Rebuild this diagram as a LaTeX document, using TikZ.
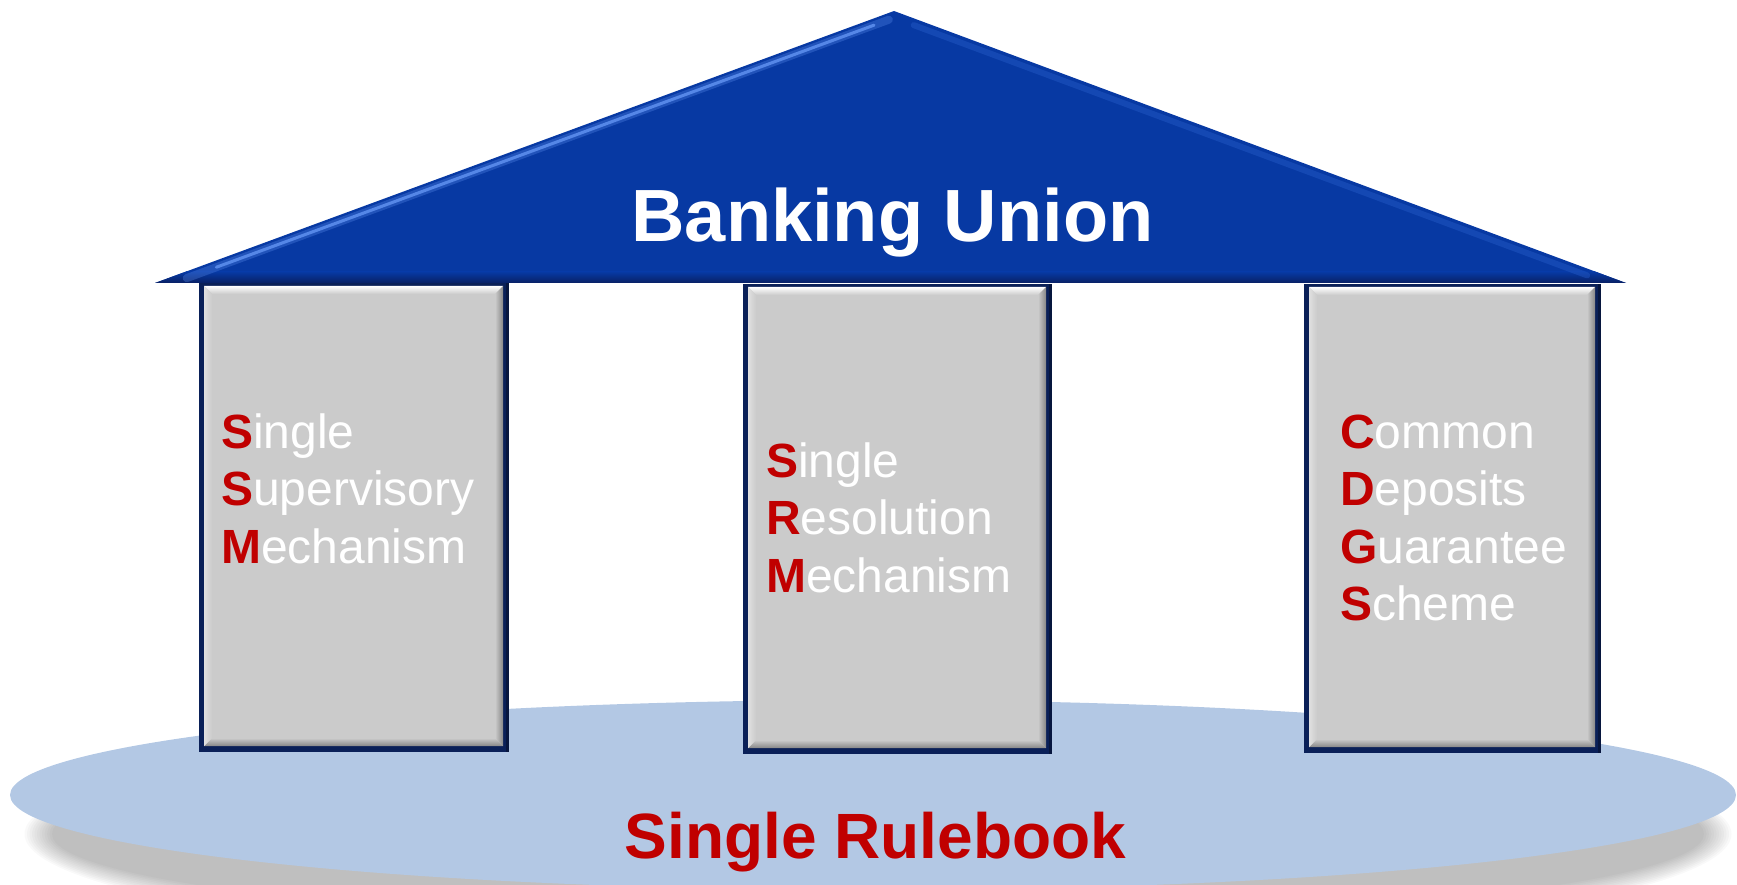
\documentclass[tikz,border=0pt]{standalone}
\usepackage{fontspec}
\setmainfont{Liberation Sans}
\usetikzlibrary{calc}
\definecolor{roofblue}{RGB}{7,57,163}
\definecolor{roofdark}{RGB}{8,32,100}
\definecolor{roofhi}{RGB}{95,145,240}
\definecolor{roofhitwo}{RGB}{40,95,205}
\definecolor{navy}{RGB}{10,32,88}
\definecolor{pgray}{RGB}{203,203,203}
\definecolor{pdark}{RGB}{135,135,135}
\definecolor{groundblue}{RGB}{179,200,228}
\definecolor{rred}{RGB}{192,0,0}
\newcommand\ini[1]{\textcolor{rred}{\textbf{#1}}}
\newcommand\drawpillar[4]{%
  \fill[navy] (#1,#2) rectangle (#3,#4);
  \fill[navy!70!black] (#3-3,#2) rectangle (#3,#4);
  \fill[pgray] (#1+5,#2+3) rectangle (#3-6,#4-6);
  \shade[top color=white, bottom color=pgray] (#1+5,#2+3) -- (#3-6,#2+3) -- (#3-14,#2+11) -- (#1+13,#2+11) -- cycle;
  \shade[top color=pgray, bottom color=pdark] (#1+5,#4-6) -- (#3-6,#4-6) -- (#3-14,#4-14) -- (#1+13,#4-14) -- cycle;
  \shade[left color=pgray, right color=pdark] (#3-6,#2+3) -- (#3-6,#4-6) -- (#3-14,#4-14) -- (#3-14,#2+11) -- cycle;
  \shade[left color=white!40!pgray, right color=pgray] (#1+5,#2+3) -- (#1+5,#4-6) -- (#1+13,#4-14) -- (#1+13,#2+11) -- cycle;
}
\tikzset{
  ptext/.style={anchor=base west, inner sep=0pt, text width=290pt, align=left,
    font=\fontsize{48}{57.5}\selectfont, text=white},
  title/.style={anchor=base, inner sep=0pt, font=\fontsize{74}{80}\selectfont\bfseries, text=white},
  ground/.style={anchor=base, inner sep=0pt, font=\fontsize{64}{70}\selectfont\bfseries, text=rred}
}
\begin{document}
\begin{tikzpicture}[x=1pt,y=-1pt]
\useasboundingbox (0,0) rectangle (1737,885);
\begin{scope}
  \clip (0,0) rectangle (1737,885);
  \foreach \k in {0,...,11}
    \fill[black, opacity=0.022] (878,834) ellipse [x radius={826+\k*2.5}, y radius={90+\k*2.5}];
  \fill[groundblue] (873,795) ellipse [x radius=863, y radius=95];
\end{scope}
% pillars
\drawpillar{199}{283}{509}{752}
\drawpillar{743}{284}{1052}{754}
\drawpillar{1304}{284}{1601}{753}
% roof
\coordinate (rl) at (155,283);
\coordinate (ra) at (894,11);
\coordinate (rr) at (1626,283);
\fill[roofblue] (rl) -- (ra) -- (rr) -- cycle;
\begin{scope}
  \clip (rl) -- (ra) -- (rr) -- cycle;
  \shade[top color=roofblue, bottom color=roofdark] (0,272) rectangle (1737,283);
  \draw[roofhi, line width=8pt, opacity=0.3, line cap=round] ($(rl)!0.04!(ra)+(2.2,6)$) -- ($(rl)!0.99!(ra)+(2.2,6)$);
  \draw[roofhi, line width=3pt, opacity=0.85, line cap=round] ($(rl)!0.08!(ra)+(2.2,6)$) -- ($(rl)!0.97!(ra)+(2.2,6)$);
  \draw[roofhitwo, line width=6pt, opacity=0.4, line cap=round] ($(ra)!0.03!(rr)+(-2.2,6)$) -- ($(ra)!0.95!(rr)+(-2.2,6)$);
\end{scope}
% texts
\node[title] (bu) at (892.5,242) {Banking Union};
\node[ground] (sr) at (875.5,858) {Single Rulebook};
\node[ptext] (ssm) at (221,448) {\ini{S}ingle\\\ini{S}upervisory\\\ini{M}echanism};
\node[ptext] (srm) at (766,477) {\ini{S}ingle\\\ini{R}esolution\\\ini{M}echanism};
\node[ptext] (cdgs) at (1340,448) {\ini{C}ommon\\\ini{D}eposits\\\ini{G}uarantee\\\ini{S}cheme};
\end{tikzpicture}
\end{document}
